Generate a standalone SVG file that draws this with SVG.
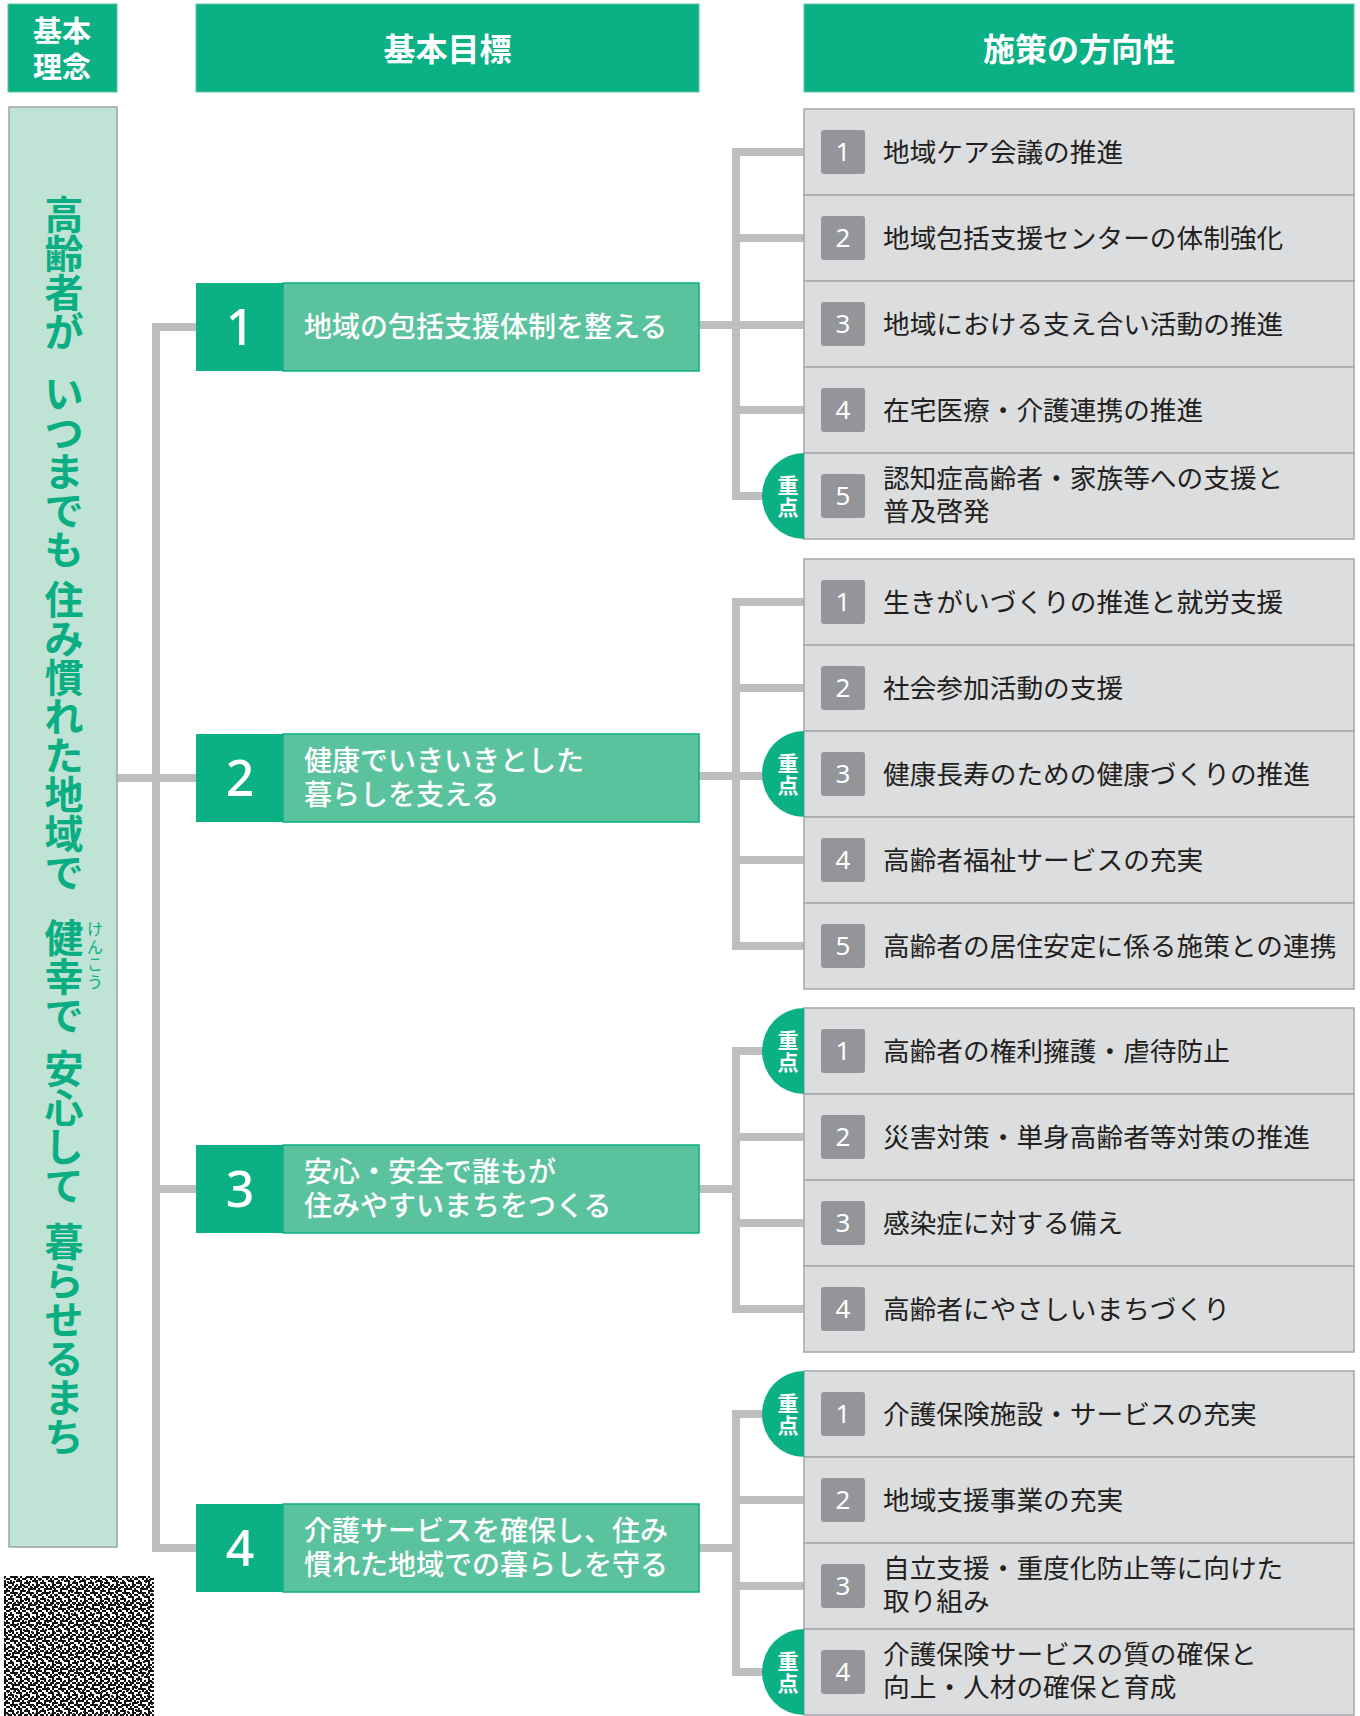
<svg xmlns="http://www.w3.org/2000/svg" width="1360" height="1716" viewBox="0 0 1360 1716">
<style>
.hdr{fill:#0bb085;stroke:#5cc3a0;stroke-width:1}
.hdrt{font-family:"Noto Sans CJK JP","Noto Sans",sans-serif;font-weight:bold;fill:#fff;text-anchor:middle}
.gnum{fill:#0bb085}
.gbox{fill:#5bc29e;stroke:#0bb085;stroke-width:1.5}
.gn{font-family:"Noto Sans","Open Sans",sans-serif;font-size:50px;font-weight:500;fill:#fff;text-anchor:middle}
.gt{font-family:"Noto Sans CJK JP",sans-serif;font-size:28px;font-weight:500;fill:#fff}
.pbox{fill:#dcdddf;stroke:#a5a7aa;stroke-width:1.5}
.pb{fill:#939598}
.pn{font-family:"Noto Sans","Open Sans",sans-serif;font-size:26px;fill:#fff;text-anchor:middle}
.pt{font-family:"Noto Sans CJK JP",sans-serif;font-size:26.7px;fill:#231f20}
.jb{fill:#0bb085}
.jt{font-family:"Noto Sans CJK JP",sans-serif;font-size:21px;font-weight:bold;fill:#fff;text-anchor:middle;writing-mode:vertical-rl;letter-spacing:1px}
.v{font-family:"Noto Sans CJK JP",sans-serif;font-size:39px;font-weight:bold;fill:#0aae82;text-anchor:middle}
.rb{font-family:"Noto Sans CJK JP",sans-serif;font-size:16px;fill:#0aae82;text-anchor:middle}
.con{fill:none;stroke:#bcbec0;stroke-width:8;stroke-linejoin:miter;stroke-linecap:butt}
</style>
<defs>
<pattern id="nzA" width="16" height="16" patternUnits="userSpaceOnUse">
<path fill="#111" d="M0 0h2v2h-2zM4 0h2v2h-2zM6 0h2v2h-2zM12 0h2v2h-2zM2 2h2v2h-2zM4 2h2v2h-2zM8 2h2v2h-2zM10 2h2v2h-2zM14 2h2v2h-2zM0 4h2v2h-2zM2 4h2v2h-2zM6 4h2v2h-2zM12 4h2v2h-2zM14 4h2v2h-2zM4 6h2v2h-2zM6 6h2v2h-2zM8 6h2v2h-2zM12 6h2v2h-2zM0 8h2v2h-2zM4 8h2v2h-2zM10 8h2v2h-2zM12 8h2v2h-2zM14 8h2v2h-2zM2 10h2v2h-2zM6 10h2v2h-2zM8 10h2v2h-2zM14 10h2v2h-2zM0 12h2v2h-2zM2 12h2v2h-2zM4 12h2v2h-2zM10 12h2v2h-2zM4 14h2v2h-2zM8 14h2v2h-2zM10 14h2v2h-2zM12 14h2v2h-2z"/>
</pattern>
<pattern id="nzB" width="22" height="22" patternUnits="userSpaceOnUse">
<path fill="#222" d="M1 1h2v2h-2zM9 3h2v2h-2zM15 1h2v2h-2zM5 7h2v2h-2zM19 9h2v2h-2zM11 11h2v2h-2zM3 15h2v2h-2zM17 17h2v2h-2zM13 19h2v2h-2zM7 19h2v2h-2z"/>
</pattern>
</defs>
<rect width="1360" height="1716" fill="#fff"/>

<g id="headers">
<g id="h-rinen"><rect class="hdr" x="8" y="4" width="109" height="88"/><text class="hdrt" x="62" y="42" font-size="29">基本</text><text class="hdrt" x="62" y="78" font-size="29">理念</text></g>
<g id="h-mokuhyo"><rect class="hdr" x="196" y="4" width="503" height="88"/><text class="hdrt" x="447.5" y="61" font-size="32">基本目標</text></g>
<g id="h-hoko"><rect class="hdr" x="804" y="4" width="550" height="88"/><text class="hdrt" x="1079" y="61" font-size="32">施策の方向性</text></g>
</g>

<g id="connectors">
<path class="con" d="M196 327H156V1548H196M117 778H196M156 1189H196"/>
<path class="con" d="M804 152H736V496H804M736 238H804M736 410H804M699 325H804"/>
<path class="con" d="M804 602H736V946H804M736 688H804M736 860H804M699 776H804"/>
<path class="con" d="M804 1051H736V1309H804M736 1137H804M736 1223H804M699 1189H736"/>
<path class="con" d="M804 1414H736V1672H804M736 1500H804M736 1586H804M699 1548H736"/>
</g>

<g id="rinen">
<rect x="9" y="107" width="108" height="1440" fill="#bfe3d5" stroke="#a0a3a5" stroke-width="1.5"/>
<text class="v" x="64 64 64 64" y="229 268 307 346">高齢者が</text>
<text class="v" x="64 64 64 64 64" y="408 447 486 525 564">いつまでも</text>
<text class="v" x="64 64 64 64 64 64 64 64" y="614 653 692 731 770 809 848 887">住み慣れた地域で</text>
<text class="v" x="64 64 64" y="952 991 1030">健幸で</text>
<text class="rb" x="95 95 95 95" y="935 952.5 970 987.5">けんこう</text>
<text class="v" x="64 64 64 64" y="1083 1122 1161 1200">安心して</text>
<text class="v" x="64 64 64 64 64 64" y="1256 1295 1334 1373 1412 1451">暮らせるまち</text>
</g>

<g id="goal1"><rect class="gnum" x="196" y="283" width="87" height="88"/><rect class="gbox" x="283" y="283" width="416" height="88"/><text class="gn" x="240" y="345">1</text><text class="gt" x="304" y="337">地域の包括支援体制を整える</text></g>
<g id="goal2"><rect class="gnum" x="196" y="734" width="87" height="88"/><rect class="gbox" x="283" y="734" width="416" height="88"/><text class="gn" x="240" y="796">2</text><text class="gt" x="304" y="771">健康でいきいきとした</text><text class="gt" x="304" y="805">暮らしを支える</text></g>
<g id="goal3"><rect class="gnum" x="196" y="1145" width="87" height="88"/><rect class="gbox" x="283" y="1145" width="416" height="88"/><text class="gn" x="240" y="1207">3</text><text class="gt" x="304" y="1182">安心・安全で誰もが</text><text class="gt" x="304" y="1216">住みやすいまちをつくる</text></g>
<g id="goal4"><rect class="gnum" x="196" y="1504" width="87" height="88"/><rect class="gbox" x="283" y="1504" width="416" height="88"/><text class="gn" x="240" y="1566">4</text><text class="gt" x="304" y="1541">介護サービスを確保し、住み</text><text class="gt" x="304" y="1575">慣れた地域での暮らしを守る</text></g>

<g id="p1-1"><rect class="pbox" x="804" y="109" width="550" height="86"/><rect class="pb" x="821" y="130" width="44" height="44" rx="3"/><text class="pn" x="843" y="161">1</text><text class="pt" x="883" y="162">地域ケア会議の推進</text></g>
<g id="p1-2"><rect class="pbox" x="804" y="195" width="550" height="86"/><rect class="pb" x="821" y="216" width="44" height="44" rx="3"/><text class="pn" x="843" y="247">2</text><text class="pt" x="883" y="248">地域包括支援センターの体制強化</text></g>
<g id="p1-3"><rect class="pbox" x="804" y="281" width="550" height="86"/><rect class="pb" x="821" y="302" width="44" height="44" rx="3"/><text class="pn" x="843" y="333">3</text><text class="pt" x="883" y="334">地域における支え合い活動の推進</text></g>
<g id="p1-4"><rect class="pbox" x="804" y="367" width="550" height="86"/><rect class="pb" x="821" y="388" width="44" height="44" rx="3"/><text class="pn" x="843" y="419">4</text><text class="pt" x="883" y="420">在宅医療・介護連携の推進</text></g>
<g id="p1-5"><rect class="pbox" x="804" y="453" width="550" height="86"/><path class="jb" d="M804 453A42 43 0 0 0 804 539Z"/><text class="jt" x="788" y="497">重点</text><rect class="pb" x="821" y="474" width="44" height="44" rx="3"/><text class="pn" x="843" y="505">5</text><text class="pt" x="883" y="488">認知症高齢者・家族等への支援と<tspan x="883" dy="33">普及啓発</tspan></text></g>

<g id="p2-1"><rect class="pbox" x="804" y="559" width="550" height="86"/><rect class="pb" x="821" y="580" width="44" height="44" rx="3"/><text class="pn" x="843" y="611">1</text><text class="pt" x="883" y="612">生きがいづくりの推進と就労支援</text></g>
<g id="p2-2"><rect class="pbox" x="804" y="645" width="550" height="86"/><rect class="pb" x="821" y="666" width="44" height="44" rx="3"/><text class="pn" x="843" y="697">2</text><text class="pt" x="883" y="698">社会参加活動の支援</text></g>
<g id="p2-3"><rect class="pbox" x="804" y="731" width="550" height="86"/><path class="jb" d="M804 731A42 43 0 0 0 804 817Z"/><text class="jt" x="788" y="775">重点</text><rect class="pb" x="821" y="752" width="44" height="44" rx="3"/><text class="pn" x="843" y="783">3</text><text class="pt" x="883" y="784">健康長寿のための健康づくりの推進</text></g>
<g id="p2-4"><rect class="pbox" x="804" y="817" width="550" height="86"/><rect class="pb" x="821" y="838" width="44" height="44" rx="3"/><text class="pn" x="843" y="869">4</text><text class="pt" x="883" y="870">高齢者福祉サービスの充実</text></g>
<g id="p2-5"><rect class="pbox" x="804" y="903" width="550" height="86"/><rect class="pb" x="821" y="924" width="44" height="44" rx="3"/><text class="pn" x="843" y="955">5</text><text class="pt" x="883" y="956">高齢者の居住安定に係る施策との連携</text></g>

<g id="p3-1"><rect class="pbox" x="804" y="1008" width="550" height="86"/><path class="jb" d="M804 1008A42 43 0 0 0 804 1094Z"/><text class="jt" x="788" y="1052">重点</text><rect class="pb" x="821" y="1029" width="44" height="44" rx="3"/><text class="pn" x="843" y="1060">1</text><text class="pt" x="883" y="1061">高齢者の権利擁護・虐待防止</text></g>
<g id="p3-2"><rect class="pbox" x="804" y="1094" width="550" height="86"/><rect class="pb" x="821" y="1115" width="44" height="44" rx="3"/><text class="pn" x="843" y="1146">2</text><text class="pt" x="883" y="1147">災害対策・単身高齢者等対策の推進</text></g>
<g id="p3-3"><rect class="pbox" x="804" y="1180" width="550" height="86"/><rect class="pb" x="821" y="1201" width="44" height="44" rx="3"/><text class="pn" x="843" y="1232">3</text><text class="pt" x="883" y="1233">感染症に対する備え</text></g>
<g id="p3-4"><rect class="pbox" x="804" y="1266" width="550" height="86"/><rect class="pb" x="821" y="1287" width="44" height="44" rx="3"/><text class="pn" x="843" y="1318">4</text><text class="pt" x="883" y="1319">高齢者にやさしいまちづくり</text></g>

<g id="p4-1"><rect class="pbox" x="804" y="1371" width="550" height="86"/><path class="jb" d="M804 1371A42 43 0 0 0 804 1457Z"/><text class="jt" x="788" y="1415">重点</text><rect class="pb" x="821" y="1392" width="44" height="44" rx="3"/><text class="pn" x="843" y="1423">1</text><text class="pt" x="883" y="1424">介護保険施設・サービスの充実</text></g>
<g id="p4-2"><rect class="pbox" x="804" y="1457" width="550" height="86"/><rect class="pb" x="821" y="1478" width="44" height="44" rx="3"/><text class="pn" x="843" y="1509">2</text><text class="pt" x="883" y="1510">地域支援事業の充実</text></g>
<g id="p4-3"><rect class="pbox" x="804" y="1543" width="550" height="86"/><rect class="pb" x="821" y="1564" width="44" height="44" rx="3"/><text class="pn" x="843" y="1595">3</text><text class="pt" x="883" y="1578">自立支援・重度化防止等に向けた<tspan x="883" dy="33">取り組み</tspan></text></g>
<g id="p4-4"><rect class="pbox" x="804" y="1629" width="550" height="86"/><path class="jb" d="M804 1629A42 43 0 0 0 804 1715Z"/><text class="jt" x="788" y="1673">重点</text><rect class="pb" x="821" y="1650" width="44" height="44" rx="3"/><text class="pn" x="843" y="1681">4</text><text class="pt" x="883" y="1664">介護保険サービスの質の確保と<tspan x="883" dy="33">向上・人材の確保と育成</tspan></text></g>

<g id="code">
<rect x="4" y="1576" width="150" height="140" fill="url(#nzA)"/>
<rect x="4" y="1576" width="150" height="140" fill="url(#nzB)"/>
</g>
</svg>
